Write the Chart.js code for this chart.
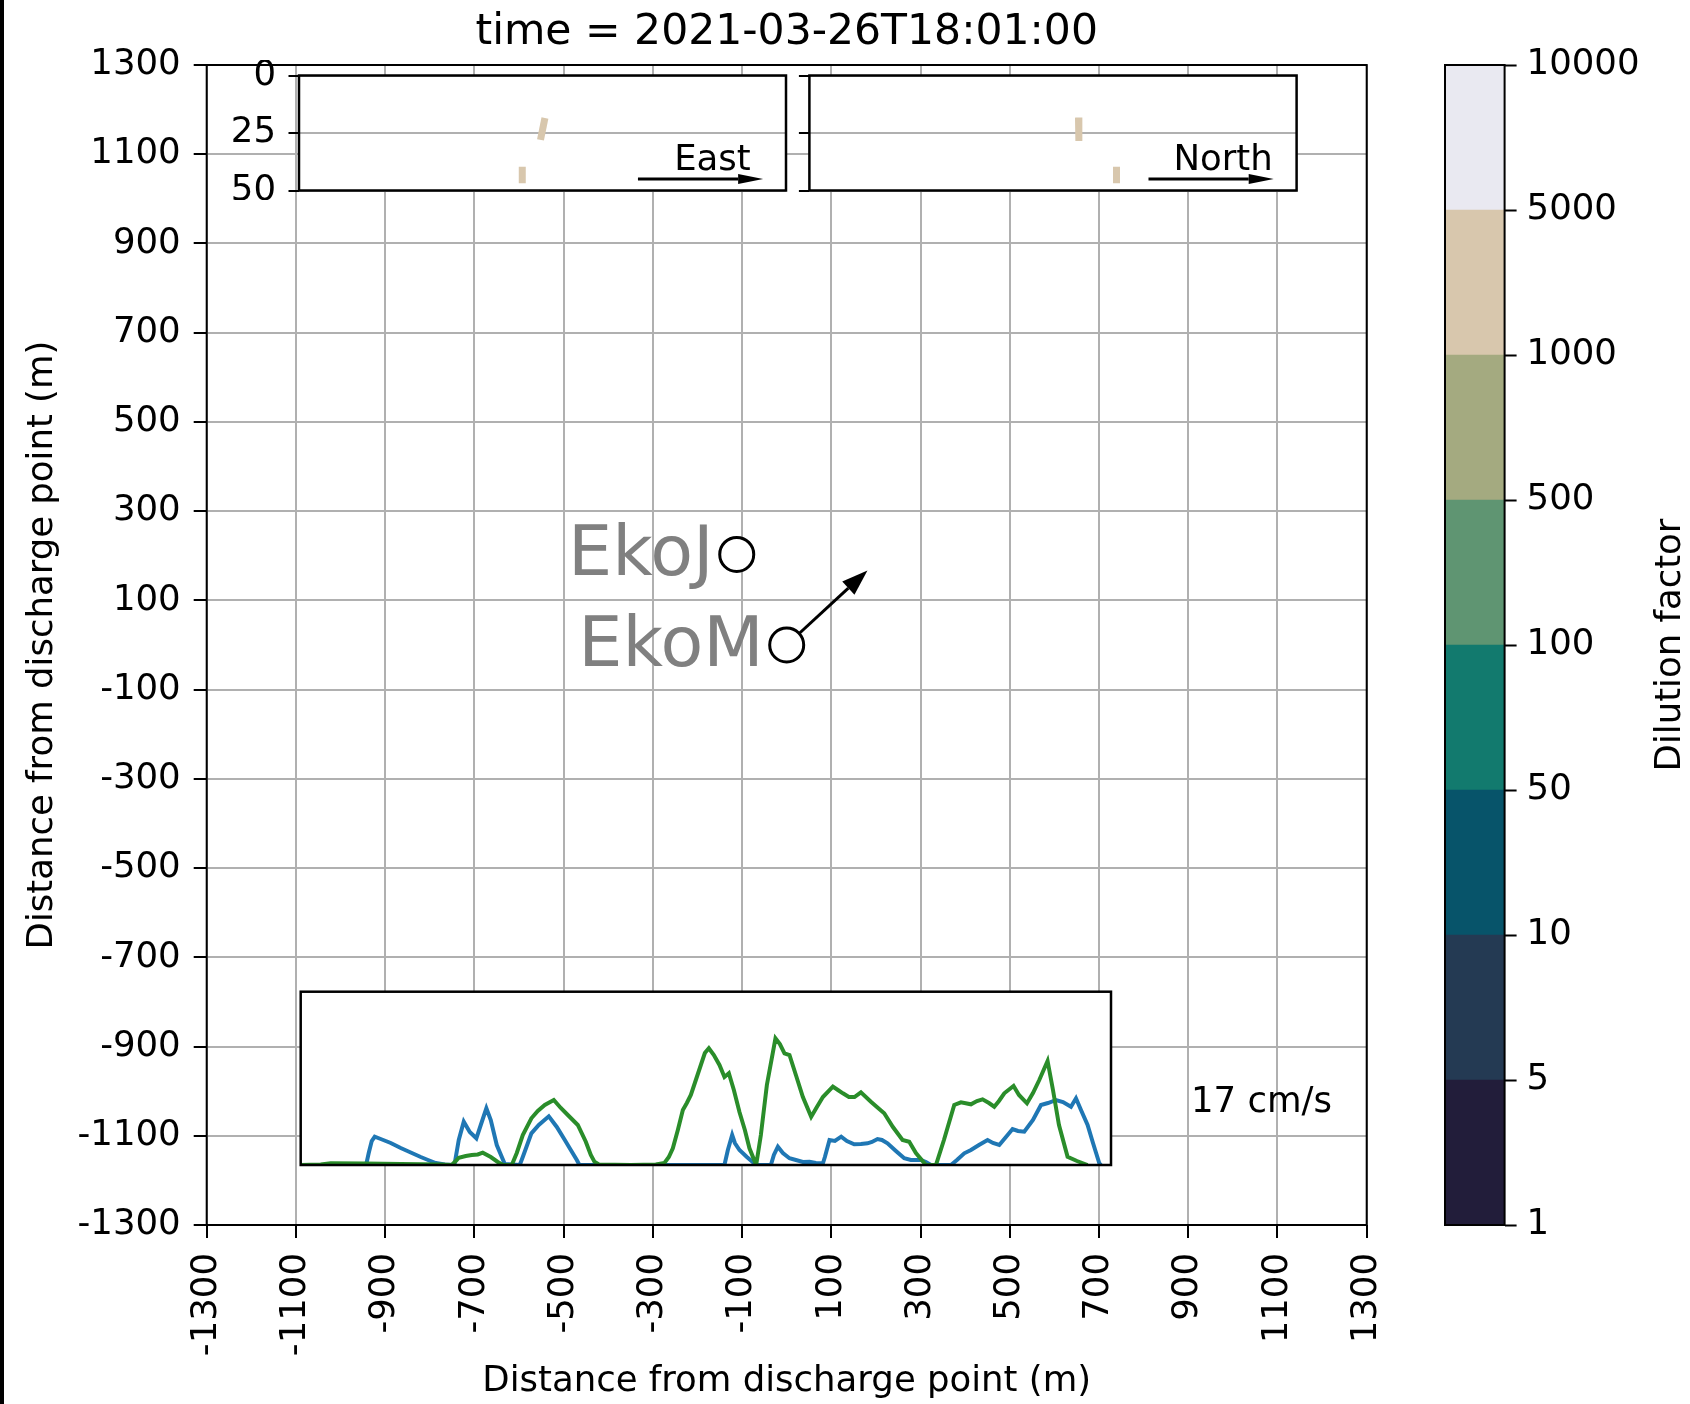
<!DOCTYPE html>
<html>
<head>
<meta charset="utf-8">
<script src="https://cdn.jsdelivr.net/npm/chart.js@4.4.0/dist/chart.umd.min.js"></script>
<style>
html,body{margin:0;padding:0;background:#fff;}
#wrap{position:relative;width:1690px;height:1404px;overflow:hidden;background:#fff;}
#wrap canvas{position:absolute;}
#edge{position:absolute;left:0;top:0;width:4px;height:1404px;background:#000;}
</style>
</head>
<body>
<div id="wrap">
  <canvas id="main" width="1690" height="1404" style="left:0;top:0"></canvas>
  <canvas id="east" width="600" height="140" style="left:200px;top:60px"></canvas>
  <canvas id="north" width="560" height="140" style="left:760px;top:60px"></canvas>
  <canvas id="speed" width="830" height="195" style="left:290px;top:980px"></canvas>
  <canvas id="cbar" width="250" height="1404" style="left:1440px;top:0"></canvas>
  <div id="edge"></div>
</div>
<script>
// ---- data ----
const axisTicks = [-1300,-1100,-900,-700,-500,-300,-100,100,300,500,700,900,1100,1300];
const stationNames = ['EkoJ','EkoM'];
const stationX = [-112, 0];
const stationY = [203, 0];
// current vector drawn from EkoM (m on plot axes)
const currentU = 181;
const currentV = 167;
const currentLabel = '17 cm/s';

const depthTicks = [0,25,50];
// plume patches in the vertical sections: [x0, depth0, x1, depth1]
const eastPatches = [[13,18.5,-10.7,28],[-108,39.7,-108,46.9]];
const northPatches = [[136,18.3,138,28.5],[339,39.7,339,46.9]];

const dilutionLevels = ['1','5','10','50','100','500','1000','5000','10000'];
const dilutionColors = ['#221d3a','#243a53','#07546a','#127a6e','#5f9572','#a4aa80','#d8c7ad','#e9e9f1'];

// speed traces in the lower inset: [position, value]
const blueTrack = [[0,0],[62,0],[65.6,1],[68,12],[71,24],[74,28.3],[80,26],[90,22],[100,17],[110,12.5],[120,8],[127.3,5],[135,2],[144,0.5],[152,0],[154,2],[158,25],[163,43.3],[169,33],[175.6,26.7],[180,40],[185.6,56.7],[190,45],[196,20],[204,1],[219,0],[222,8],[230.6,31.7],[238,40],[248,48.7],[256,38],[264,25],[270,15],[276,5],[278.6,0],[423.6,0],[427,15],[431.3,30],[434,22],[438.6,15],[446,8],[455.3,0],[470,0],[473,10],[477,18.3],[482,12],[488.6,6.7],[495,5],[502,3],[508.6,3.3],[515,2],[522,1.7],[524,8],[528.6,25],[534,24],[540.3,28.3],[546,24],[553.3,20.7],[560,21],[566.6,21.7],[571,23],[576.6,26],[581,25],[586.6,21.7],[595,14],[603.3,6.7],[610,5],[620,5],[625,3],[630,0],[650,0],[656,5],[663.3,11.7],[670,15],[678,20],[686.6,25],[692,22],[698.3,20],[705,28],[711.6,36],[717,34],[723.3,33.3],[732,45],[740,60],[747,62],[755,65],[762,63],[770,58.3],[775,66.7],[780,55],[786.6,40],[792,22],[798.3,1.7],[800,0]];
const greenTrack = [[0,0],[20,0.5],[30,1.7],[64,1.5],[100,1],[140,0.5],[151,0],[155,4],[158,7.3],[165,9],[171,10],[177,10.5],[182,12.3],[190,8],[197,3],[202.3,0],[211,0],[216,12],[222,30],[230.6,46.7],[237,54],[244,60],[253,65],[260,57],[267,50],[277,40],[285,23.3],[290,10],[293.6,3.3],[298,0.5],[330,0],[355,0.5],[363.6,2],[368,8],[372,16.7],[377,35],[382,55],[386,62],[390,70],[395,85],[400,100],[404,112],[408,116.7],[413,110],[418.6,100],[423.6,88],[428,91.7],[433,75],[438.6,53],[444,35],[448.6,16.7],[455.3,0],[460,30],[466,80],[474.6,126.7],[479,121],[483.6,111.7],[488.6,110],[495,90],[502,68],[510.3,48.3],[516,58],[522,68],[532,78.3],[537,75],[542,71.7],[548,68],[553.6,68],[560,72.7],[570,63.3],[576,58],[583.3,51.7],[592,38],[601.6,25],[608.3,23.3],[615,12],[625,0],[635,0],[643,25],[653.3,60],[660,62.7],[670,60.7],[676,64],[681.6,65.7],[688,62],[693.3,58.3],[698,64],[703.3,71.7],[712.6,79],[718,70],[726,61.7],[732,72],[738.3,85],[746.6,104],[752,75],[758,40],[766.6,8.3],[776,4],[786.6,0]];

// ---- styling ----
const FONT = 'DejaVu Sans';
const TXT = 35.5;
Chart.defaults.font.family = FONT;
Chart.defaults.color = '#000';
const GRID = '#b0b0b0';
const PATCH = '#d8c7ad';

function arrow(ctx, x0, y0, x1, y1, headLen, headHalf, lw){
  const a = Math.atan2(y1-y0, x1-x0);
  const bx = x1 - headLen*Math.cos(a), by = y1 - headLen*Math.sin(a);
  ctx.save();
  ctx.strokeStyle = '#000'; ctx.fillStyle = '#000'; ctx.lineWidth = lw;
  ctx.beginPath(); ctx.moveTo(x0,y0); ctx.lineTo(bx,by); ctx.stroke();
  ctx.beginPath();
  ctx.moveTo(x1,y1);
  ctx.lineTo(bx + headHalf*Math.sin(a), by - headHalf*Math.cos(a));
  ctx.lineTo(bx - headHalf*Math.sin(a), by + headHalf*Math.cos(a));
  ctx.closePath(); ctx.fill();
  ctx.restore();
}

function frame(chart, lw){
  const a = chart.chartArea, ctx = chart.ctx;
  ctx.save(); ctx.strokeStyle = '#000'; ctx.lineWidth = lw;
  ctx.strokeRect(a.left, a.top, a.right-a.left, a.bottom-a.top);
  ctx.restore();
}

const whiteArea = {
  id:'whiteArea',
  beforeDraw(chart){
    const a = chart.chartArea, ctx = chart.ctx;
    ctx.save(); ctx.fillStyle = '#fff';
    ctx.fillRect(a.left, a.top, a.right-a.left, a.bottom-a.top);
    ctx.restore();
  }
};

// ---- main map ----
const mainDecor = {
  id:'mainDecor',
  beforeDatasetsDraw(chart){
    const xs = chart.scales.x, ys = chart.scales.y;
    arrow(chart.ctx, xs.getPixelForValue(stationX[1]), ys.getPixelForValue(stationY[1]),
      xs.getPixelForValue(stationX[1]+currentU), ys.getPixelForValue(stationY[1]+currentV), 26, 9, 3);
  },
  afterDatasetsDraw(chart){
    const xs = chart.scales.x, ys = chart.scales.y, ctx = chart.ctx, a = chart.chartArea;
    ctx.save();
    ctx.font = '70px "' + FONT + '"';
    ctx.fillStyle = '#808080';
    ctx.textAlign = 'right'; ctx.textBaseline = 'alphabetic';
    stationNames.forEach((n,i)=>{
      ctx.fillText(n, xs.getPixelForValue(stationX[i]) - 23, ys.getPixelForValue(stationY[i]) + 21);
    });
    ctx.font = TXT + 'px "' + FONT + '"';
    ctx.fillStyle = '#000'; ctx.textAlign = 'left';
    ctx.fillText(currentLabel, a.left + 0.8485*(a.right-a.left), a.top + 0.9022*(a.bottom-a.top));
    ctx.restore();
  },
  afterDraw(chart){ frame(chart, 2); }
};

const tickFont = {family: FONT, size: TXT};
new Chart(document.getElementById('main'), {
  type:'scatter',
  data:{datasets:[{
    data: stationX.map((x,i)=>({x, y: stationY[i]})),
    pointRadius:17, pointHoverRadius:17,
    pointBackgroundColor:'#fff', pointBorderColor:'#000', pointBorderWidth:3
  }]},
  options:{
    responsive:false, animation:false, events:[],
    layout:{padding:{left:0, right:323.3, top:0, bottom:0}},
    plugins:{
      legend:{display:false}, tooltip:{enabled:false},
      title:{display:true, fullSize:false, text:'time = 2021-03-26T18:01:00', color:'#000',
        font:{family:FONT, size:42.5, weight:'normal'}, padding:{top:7.5, bottom:6.5}}
    },
    scales:{
      x:{type:'linear', min:-1300, max:1300,
        afterBuildTicks:s=>{s.ticks = axisTicks.map(v=>({value:v}));},
        afterFit:s=>{s.height = 179;},
        grid:{color:GRID, lineWidth:2, tickColor:'#000', tickLength:13, tickWidth:2},
        border:{display:false},
        ticks:{color:'#000', font:tickFont, padding:15, minRotation:90, maxRotation:90, autoSkip:false, callback:v=>String(v)},
        title:{display:true, text:'Distance from discharge point (m)', color:'#000', font:tickFont, padding:{top:0, bottom:1}}
      },
      y:{type:'linear', min:-1300, max:1300,
        afterBuildTicks:s=>{s.ticks = axisTicks.map(v=>({value:v}));},
        afterFit:s=>{s.width = 206.7;},
        grid:{color:GRID, lineWidth:2, tickColor:'#000', tickLength:13, tickWidth:2},
        border:{display:false},
        ticks:{color:'#000', font:tickFont, padding:13, autoSkip:false, callback:v=>String(v)},
        title:{display:true, text:'Distance from discharge point (m)', color:'#000', font:tickFont, padding:{top:21.7, bottom:0}}
      }
    }
  },
  plugins:[mainDecor]
});

// ---- vertical sections (top insets) ----
const sectionDecor = {
  id:'sectionDecor',
  afterDatasetsDraw(chart, args, opts){
    const a = chart.chartArea, ctx = chart.ctx, w = a.right-a.left, h = a.bottom-a.top;
    arrow(ctx, a.left+0.696*w, a.top+0.9*h, a.left+0.953*w, a.top+0.9*h, 25, 5, 3);
    ctx.save();
    ctx.font = TXT + 'px "' + FONT + '"';
    ctx.fillStyle = '#000'; ctx.textAlign = 'center'; ctx.textBaseline = 'alphabetic';
    ctx.fillText(opts.label, a.left+0.849*w, a.top+0.822*h);
    ctx.restore();
  },
  afterDraw(chart){ frame(chart, 2.5); }
};

function makeSection(id, patches, label, axisWidth, pad, showLabels){
  new Chart(document.getElementById(id), {
    type:'scatter',
    data:{datasets: patches.map(p=>({
      data:[{x:p[0], y:p[1]},{x:p[2], y:p[3]}],
      showLine:true, borderColor:PATCH, borderWidth:7, borderCapStyle:'butt', pointRadius:0
    }))},
    options:{
      responsive:false, animation:false, events:[],
      layout:{padding:pad},
      plugins:{legend:{display:false}, tooltip:{enabled:false}, sectionDecor:{label}},
      scales:{
        x:{type:'linear', min:-1300, max:1300, display:false},
        y:{type:'linear', min:0, max:50, reverse:true,
          afterBuildTicks:s=>{s.ticks = depthTicks.map(v=>({value:v}));},
          afterFit:s=>{s.width = axisWidth; s.paddingTop = 0; s.paddingBottom = 0;},
          grid:{color:GRID, lineWidth:2, tickColor:'#000', tickLength:10.5, tickWidth:2},
          border:{display:false},
          ticks:{display:showLabels, color:'#000', font:tickFont, padding:12.5, callback:v=>String(v)}
        }
      }
    },
    plugins:[whiteArea, sectionDecor]
  });
}
makeSection('east', eastPatches, 'East', 99, {left:0, right:14, top:15.5, bottom:9.5}, true);
makeSection('north', northPatches, 'North', 49.4, {left:0, right:23.4, top:15.5, bottom:9.5}, false);

// ---- speed inset (bottom) ----
new Chart(document.getElementById('speed'), {
  type:'scatter',
  data:{datasets:[
    {data: greenTrack.map(p=>({x:p[0], y:p[1]})), showLine:true, borderColor:'#2a8d2a', borderWidth:4, pointRadius:0},
    {data: blueTrack.map(p=>({x:p[0], y:p[1]})), showLine:true, borderColor:'#1f77b4', borderWidth:4, pointRadius:0}
  ]},
  options:{
    responsive:false, animation:false, events:[],
    layout:{padding:{left:10.7, right:9, top:11.7, bottom:10}},
    plugins:{legend:{display:false}, tooltip:{enabled:false}},
    scales:{
      x:{type:'linear', min:0, max:810, display:false},
      y:{type:'linear', min:0, max:173.3, display:false}
    }
  },
  plugins:[whiteArea, {id:'speedFrame', afterDraw(chart){ frame(chart, 2.5); }}]
});

// ---- colour bar ----
const cbarDecor = {
  id:'cbarDecor',
  afterDraw(chart){
    frame(chart, 2);
    const ctx = chart.ctx, a = chart.chartArea;
    ctx.save();
    ctx.font = TXT + 'px "' + FONT + '"';
    ctx.fillStyle = '#000'; ctx.textAlign = 'center'; ctx.textBaseline = 'middle';
    ctx.translate(230.6, (a.top + a.bottom)/2);
    ctx.rotate(-Math.PI/2);
    ctx.fillText('Dilution factor', 0, 0);
    ctx.restore();
  }
};
new Chart(document.getElementById('cbar'), {
  type:'bar',
  data:{labels:['dilution'], datasets: dilutionColors.map(c=>({
    data:[1], backgroundColor:c, borderWidth:0, barPercentage:1, categoryPercentage:1
  }))},
  options:{
    responsive:false, animation:false, events:[],
    layout:{padding:{left:5, right:0, top:65, bottom:179}},
    plugins:{legend:{display:false}, tooltip:{enabled:false}},
    scales:{
      x:{stacked:true, display:false},
      y:{stacked:true, position:'right', min:0, max:dilutionColors.length,
        afterBuildTicks:s=>{s.ticks = dilutionLevels.map((l,i)=>({value:i}));},
        afterFit:s=>{s.width = 185.4;},
        grid:{drawOnChartArea:false, tickColor:'#000', tickLength:12, tickWidth:2},
        border:{display:false},
        ticks:{color:'#000', font:tickFont, padding:10, autoSkip:false, callback:(v)=>dilutionLevels[v]}
      }
    }
  },
  plugins:[cbarDecor]
});
</script>
</body>
</html>
